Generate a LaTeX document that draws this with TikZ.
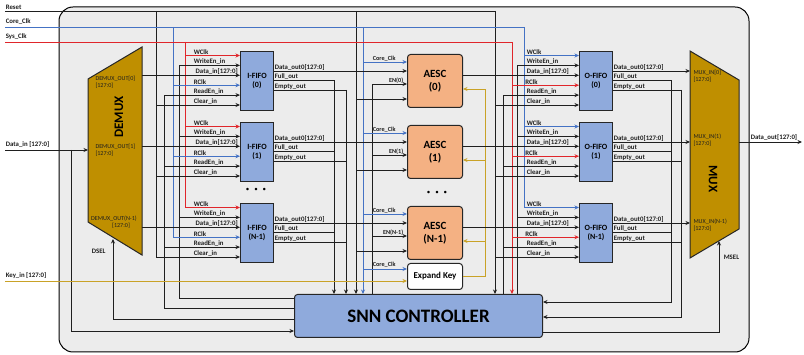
\documentclass[tikz,border=0pt]{standalone}
\usepackage{fontspec}
\setmainfont{Carlito}
\usetikzlibrary{arrows.meta}
\definecolor{rd}{HTML}{E0262B}
\definecolor{bl}{HTML}{4472C4}
\definecolor{gd}{HTML}{C9A227}
\definecolor{muxc}{HTML}{BF8F00}
\definecolor{fifoc}{HTML}{8FAADC}
\definecolor{aescc}{HTML}{F4B183}
\definecolor{bgc}{HTML}{ECECEC}
\begin{document}
\begin{tikzpicture}[x=1pt,y=-1pt,
  wire/.style={line width=0.95pt,draw=black!88},
  arr/.style={wire,-{Stealth[length=4.5pt,width=4pt]}},
  sig/.style={font=\fontsize{6.8}{7}\selectfont\bfseries,text=black!88,inner sep=0.6pt},
  tinyl/.style={font=\fontsize{6.1}{6.8}\selectfont,text=black!88,inner sep=0.3pt,align=left},
  boxb/.style={draw=black!85,line width=1pt,align=center,inner sep=0pt},
  fifo/.style={boxb,fill=fifoc,minimum width=33pt,minimum height=59pt,anchor=north west,font=\fontsize{8}{9.6}\selectfont\bfseries},
  aesc/.style={boxb,fill=aescc,rounded corners=3pt,minimum width=55pt,minimum height=53pt,anchor=north west,font=\fontsize{11}{13}\selectfont\bfseries}
]
\useasboundingbox (0,0) rectangle (804,355);
\fill[white] (0,0) rectangle (804,355);
\draw[fill=bgc,line width=1pt,rounded corners=14pt] (59,7) rectangle (749,352);

% main blocks
\node[boxb,fill=fifoc,rounded corners=3pt,anchor=north west,minimum width=248pt,minimum height=43pt,font=\fontsize{19}{21}\selectfont\bfseries] (snn) at (294,294) {SNN CONTROLLER};
\node[boxb,fill=white,rounded corners=3pt,anchor=north west,minimum width=55pt,minimum height=26pt,font=\fontsize{9}{10}\selectfont\bfseries] (ek) at (407,263) {Expand Key};
\draw[fill=muxc,draw=black!85,line width=1pt] (88,79) coordinate (dmxa) -- (142,47) coordinate (dmxb) -- (142,255) coordinate (dmxc) -- (88,222) coordinate (dmxd) -- cycle;
\draw[fill=muxc,draw=black!85,line width=1pt] (690,51) coordinate (mxa) -- (739,80) coordinate (mxb) -- (739,229) coordinate (mxc) -- (690,258) coordinate (mxd) -- cycle;
\node[rotate=90,font=\fontsize{13}{13}\selectfont\bfseries] (dmxt) at (119,117) {DEMUX};
\node[rotate=-90,font=\fontsize{13}{13}\selectfont\bfseries] (mxt) at (713,179) {MUX};

% external inputs
\node[sig,anchor=south west] (lrst) at (5,10) {Reset};
\node[sig,anchor=south west] (lcck) at (5,25.5) {Core\_Clk};
\node[sig,anchor=south west] (lsck) at (5,40.5) {Sys\_Clk};
\node[sig,anchor=south west] (ldin) at (5,148.5) {Data\_in [127:0]};
\node[sig,anchor=south west] (lkey) at (5,279.5) {Key\_in [127:0]};
\coordinate (rst) at (5,11);
\coordinate (cck) at (5,27);
\coordinate (sck) at (5,42);
\coordinate (din) at (5,150);
\coordinate (kin) at (5,281);

% global buses
\draw[wire] (rst) -- (495,11);
\draw[wire] (156,11) -- (156,257);
\draw[arr] (356,11) -- (356,0 |- snn.north);
\draw[arr] (495,11) -- (495,0 |- snn.north);
\draw[wire,draw=bl] (cck) -- (524,27);
\draw[wire,draw=bl] (173,27) -- (173,237.2);
\draw[arr,draw=bl] (363,27) -- (363,0 |- snn.north);
\draw[wire,draw=bl] (524,27) -- (524,207.5);
\draw[wire,draw=rd] (sck) -- (512,42);
\draw[wire,draw=rd] (185,42) -- (185,207.5);
\draw[arr,draw=rd] (512,42) -- (512,0 |- snn.north);

\draw[arr] (din) -- (88,150);
\draw[arr] (71,150) |- (snn.west |- 0,331);
\draw[wire] (snn.west |- 0,298) -| (179,65.4);
\draw[wire] (snn.west |- 0,308) -| (164,95.1);
\draw[arr] (snn.west |- 0,319) -| (113,239);
\node[sig,anchor=west] (ldsel) at (91,251) {DSEL};

\draw[arr] (334,80.5) -- (334,0 |- snn.north);
\draw[arr] (346,90) -- (346,0 |- snn.north);
\draw[wire] (372,0 |- snn.north) -- (372,84);
\draw[wire] (503,0 |- snn.north) -- (503,95.1);
\draw[wire] (517,0 |- snn.north) -- (517,65.4);
\draw[arr] (671,80.5) |- (snn.east |- 0,302);
\draw[arr] (681,90) |- (snn.east |- 0,317);
\draw[arr] (snn.east |- 0,332) -| (719,241);
\node[sig,anchor=west] (lmsel) at (723,257) {MSEL};

% key path
\draw[arr,draw=gd] (kin) -- (ek.west |- 0,281);
\draw[wire,draw=gd] (ek.east |- 0,276) -| (485,89);
\draw[arr,draw=bl] (363,269) -- (ek.west |- 0,269);
\node[sig,anchor=south west,font=\fontsize{6.2}{7}\selectfont\bfseries] (lekc) at (372,268) {Core\_Clk};

% output
\draw[arr] (739,142) -- (802,142);
\node[sig,anchor=south west] (ldout) at (750,141) {Data\_out[127:0]};

% mux/demux port labels
\node[tinyl,anchor=north west] (d0) at (95,76) {DEMUX\_OUT[0]\\{}[127:0]};
\node[tinyl,anchor=north west] (d1) at (95,144) {DEMUX\_OUT[1]\\{}[127:0]};
\node[tinyl,anchor=north,align=center] (d2) at (114,216) {DEMUX\_OUT(N-1)\\\hspace*{14pt}[127:0]};
\node[tinyl,anchor=north west] (m0) at (693,70) {MUX\_IN[0]\\{}[127:0]};
\node[tinyl,anchor=north west] (m1) at (693,134) {MUX\_IN(1)\\{}[127:0]};
\node[tinyl,anchor=north west] (m2) at (693,219) {MUX\_IN(N-1)\\{}[127:0]};

% dots
\node[font=\fontsize{7}{7}\selectfont] (dots1) at (256,190) {•\hspace{5pt}•\hspace{5pt}•};
\node[font=\fontsize{7}{7}\selectfont] (dots2) at (437,193) {•\hspace{5pt}•\hspace{5pt}•};

\foreach \T/\k/\i in {51/0/0,122/1/1,203/N-1/2}{
  \pgfmathsetmacro\sa{\T+4.5}
  \pgfmathsetmacro\sb{\T+14.4}
  \pgfmathsetmacro\sc{\T+24.3}
  \pgfmathsetmacro\sd{\T+34.2}
  \pgfmathsetmacro\se{\T+44.1}
  \pgfmathsetmacro\sf{\T+54}
  \pgfmathsetmacro\oa{\T+20}
  \pgfmathsetmacro\ob{\T+29.5}
  \pgfmathsetmacro\oc{\T+39}
  \pgfmathsetmacro\ac{\T+11}
  \pgfmathsetmacro\ae{\T+33}
  \pgfmathsetmacro\ar{\T+48}
  \pgfmathsetmacro\ag{\T+38}
  \node[fifo] (if\i) at (240,\T) {I-FIFO\\(\k)};
  \node[fifo] (of\i) at (579,\T) {O-FIFO\\(\k)};
  \node[aesc] (ae\i) at (407,\T+3) {AESC\\(\k)};
  % I-FIFO inputs
  \draw[arr,draw=rd] (185,\sa) -- (if\i.west |- 0,\sa);
  \draw[arr] (179,\sb) -- (if\i.west |- 0,\sb);
  \draw[arr] (142,\sc) -- (if\i.west |- 0,\sc);
  \draw[arr,draw=bl] (173,\sd) -- (if\i.west |- 0,\sd);
  \draw[arr] (164,\se) -- (if\i.west |- 0,\se);
  \draw[arr] (156,\sf) -- (if\i.west |- 0,\sf);
  \node[sig,anchor=south west] (iwa\i) at (193,\sa) {WClk};
  \node[sig,anchor=south west] (iwb\i) at (193,\sb) {WriteEn\_in};
  \node[sig,anchor=south east] (iwc\i) at (238.5,\sc) {Data\_in[127:0]};
  \node[sig,anchor=south west] (iwd\i) at (193,\sd) {RClk};
  \node[sig,anchor=south west] (iwe\i) at (193,\se) {ReadEn\_in};
  \node[sig,anchor=south west] (iwf\i) at (193,\sf) {Clear\_in};
  % I-FIFO outputs
  \draw[arr] (if\i.east |- 0,\oa) -- (ae\i.west |- 0,\oa);
  \draw[wire] (if\i.east |- 0,\ob) -- (334,\ob);
  \draw[wire] (if\i.east |- 0,\oc) -- (346,\oc);
  \node[sig,anchor=south west] (ioa\i) at (274,\oa) {Data\_out0[127:0]};
  \node[sig,anchor=south west] (iob\i) at (274,\ob) {Full\_out};
  \node[sig,anchor=south west] (ioc\i) at (274,\oc) {Empty\_out};
  % AESC inputs
  \draw[arr,draw=bl] (363,\ac) -- (ae\i.west |- 0,\ac);
  \draw[arr] (372,\ae) -- (ae\i.west |- 0,\ae);
  \draw[arr] (356,\ar) -- (ae\i.west |- 0,\ar);
  \draw[arr,draw=gd] (485,\ag) -- (ae\i.east |- 0,\ag);
  \node[sig,anchor=south west,font=\fontsize{6.2}{7}\selectfont\bfseries] (lac\i) at (372,\ac) {Core\_Clk};
  \node[sig,anchor=south east,font=\fontsize{6.2}{7}\selectfont\bfseries] (len\i) at (404,\ae) {EN(\k)};
  % AESC output to O-FIFO
  \draw[arr] (ae\i.east |- 0,\sc) -- (of\i.west |- 0,\sc);
  % O-FIFO inputs
  \draw[arr,draw=bl] (524,\sa) -- (of\i.west |- 0,\sa);
  \draw[arr] (517,\sb) -- (of\i.west |- 0,\sb);
  \draw[arr,draw=rd] (512,\sd) -- (of\i.west |- 0,\sd);
  \draw[arr] (503,\se) -- (of\i.west |- 0,\se);
  \draw[arr] (495,\sf) -- (of\i.west |- 0,\sf);
  \node[sig,anchor=south west] (owa\i) at (526,\sa) {WClk};
  \node[sig,anchor=south west] (owb\i) at (526,\sb) {WriteEn\_in};
  \node[sig,anchor=south west] (owc\i) at (526,\sc) {Data\_in[127:0]};
  \node[sig,anchor=south west] (owd\i) at (524.5,\sd) {RClk};
  \node[sig,anchor=south west] (owe\i) at (526,\se) {ReadEn\_in};
  \node[sig,anchor=south west] (owf\i) at (526,\sf) {Clear\_in};
  % O-FIFO outputs
  \draw[arr] (of\i.east |- 0,\oa) -- (690,\oa);
  \draw[wire] (of\i.east |- 0,\ob) -- (671,\ob);
  \draw[wire] (of\i.east |- 0,\oc) -- (681,\oc);
  \node[sig,anchor=south west] (ooa\i) at (613,\oa) {Data\_out0[127:0]};
  \node[sig,anchor=south west] (oob\i) at (613,\ob) {Full\_out};
  \node[sig,anchor=south west] (ooc\i) at (613,\oc) {Empty\_out};
}
\end{tikzpicture}
\end{document}
